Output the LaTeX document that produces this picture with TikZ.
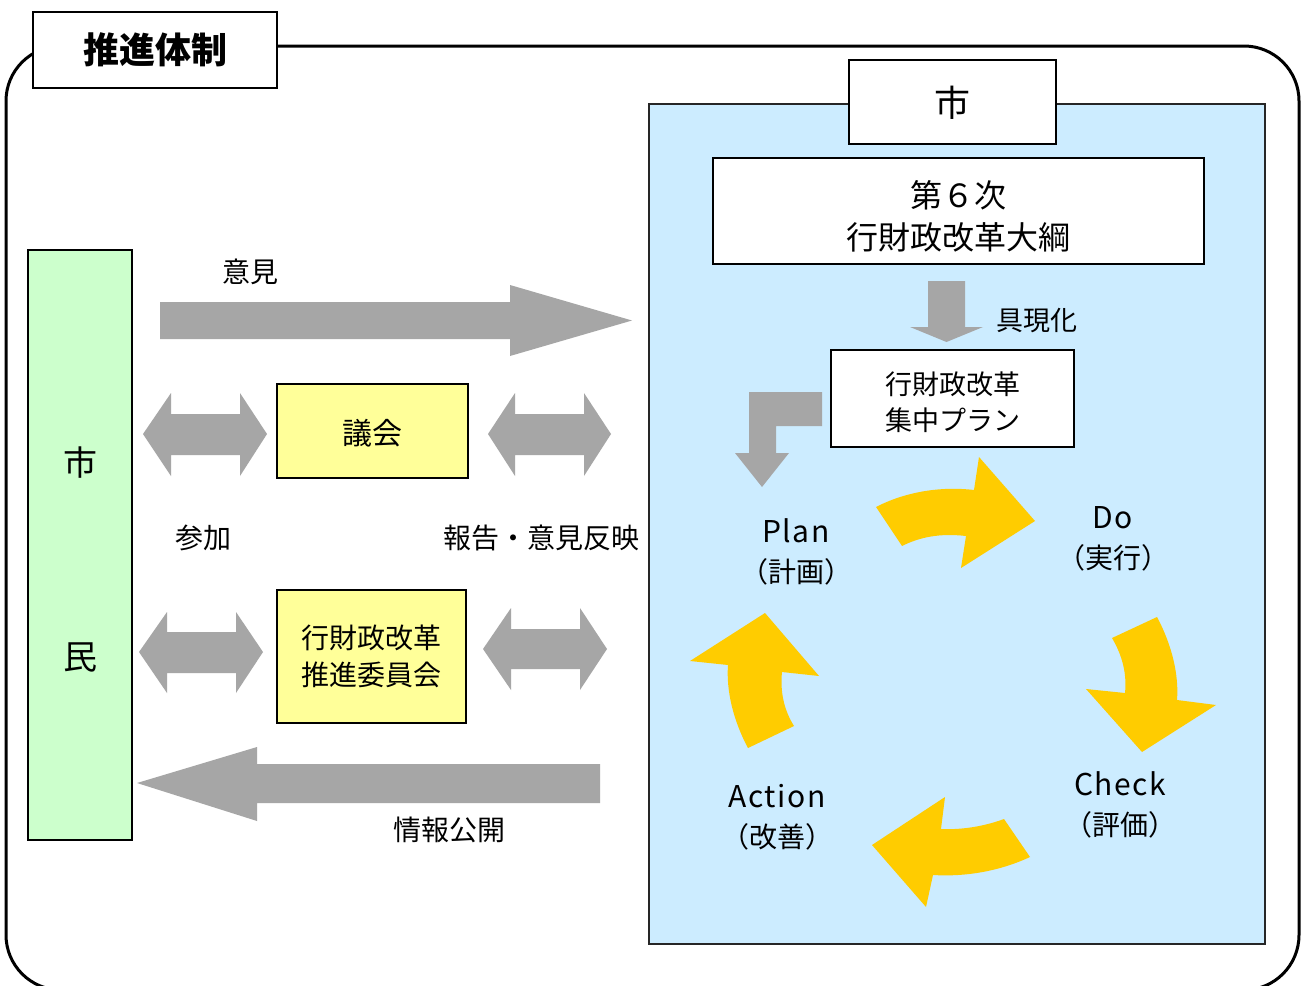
\documentclass[tikz,border=0pt]{standalone}
\usepackage{fontspec}
\setmainfont{Noto Sans CJK JP}
\definecolor{agray}{HTML}{A6A6A6}
\definecolor{pyellow}{HTML}{FFCC00}
\definecolor{pblue}{HTML}{CCECFF}
\definecolor{pgreen}{HTML}{CCFFCC}
\definecolor{pyel}{HTML}{FFFF99}
\newcommand{\latw}[1]{{\fontsize{30}{40}\selectfont\addfontfeature{LetterSpace=5}#1}}
\tikzset{
  txt/.style={inner sep=0pt, align=center, font=\fontsize{28}{37}\selectfont},
  bx/.style={draw=black, line width=2.5pt, inner sep=0pt},
  garrow/.style={fill=agray, draw=none},
  yarrow/.style={fill=pyellow, draw=none},
}
\begin{document}
\begin{tikzpicture}[x=1pt,y=-1pt]
\useasboundingbox (0,0) rectangle (1303,985);
\fill[white] (0,0) rectangle (1303,985);
\clip (0,0) rectangle (1303,985);
% outer frame
\draw[line width=3pt, rounded corners=55] (6,46) rectangle (1299,990);
\node[bx, fill=white, minimum width=244, minimum height=76] (title) at (155,50) {};
\node[txt, font=\fontsize{36}{40}\selectfont\bfseries] (titletxt) at (155,50) {推進体制};

% citizens
\node[bx, line width=2pt, fill=pgreen, minimum width=104, minimum height=590] (shimin) at (80,545) {};
\node[txt, font=\fontsize{34}{40}\selectfont] (shi1) at (80,463) {市};
\node[txt, font=\fontsize{34}{40}\selectfont] (min1) at (80,657) {民};

% opinion arrow
\fill[garrow] (160,302) -- (510,302) -- (510,285) -- (632,320.5) -- (510,356) -- (510,339) -- (160,339) -- cycle;
\node[txt] (iken) at (250,272) {意見};

% gikai
\node[bx, line width=2pt, fill=pyel, minimum width=191, minimum height=94] (gikai) at (372.5,431) {};
\node[txt, font=\fontsize{30}{36}\selectfont] (gikaitxt) at (372.5,433) {議会};
\fill[garrow] (143,434) -- (171,393) -- (171,414) -- (240,414) -- (240,393) -- (267,434) -- (240,476) -- (240,455) -- (171,455) -- (171,476) -- cycle;
\fill[garrow] (488,434) -- (515,393) -- (515,414) -- (584,414) -- (584,393) -- (611,434) -- (584,476) -- (584,455) -- (515,455) -- (515,476) -- cycle;

\node[txt] (sanka) at (203,538) {参加};
\node[txt] (hokoku) at (541,538) {報告・意見反映};

% committee
\node[bx, line width=2pt, fill=pyel, minimum width=189, minimum height=133] (iinkai) at (371.5,656) {};
\node[txt] (iinkaitxt) at (371.5,656) {行財政改革\\推進委員会};
\fill[garrow] (139,652) -- (167,612) -- (167,632) -- (236,632) -- (236,612) -- (263,652) -- (236,693) -- (236,673) -- (167,673) -- (167,693) -- cycle;
\fill[garrow] (483,649) -- (511,608) -- (511,629) -- (580,629) -- (580,608) -- (607,649) -- (580,690) -- (580,669) -- (511,669) -- (511,690) -- cycle;

% information arrow
\fill[garrow] (137,783) -- (257,747) -- (257,764) -- (600,764) -- (600,803) -- (257,803) -- (257,821) -- cycle;
\node[txt] (joho) at (449,830) {情報公開};

% city panel
\node[draw=black!85, line width=2pt, fill=pblue, inner sep=0pt, minimum width=616, minimum height=840] (panel) at (957,524) {};
\node[bx, line width=2pt, fill=white, minimum width=207, minimum height=84] (city) at (952.5,102) {};
\node[txt, font=\fontsize{36}{40}\selectfont] (citytxt) at (952.5,103) {市};
\node[bx, line width=2pt, fill=white, minimum width=491, minimum height=106] (taiko) at (958.5,211) {};
\node[txt, font=\fontsize{32}{42}\selectfont] (taikotxt) at (958.5,216) {第６次\\行財政改革大綱};

\fill[garrow] (928,281) -- (965,281) -- (965,327) -- (983,327) -- (946.5,342) -- (910,327) -- (928,327) -- cycle;
\node[txt, font=\fontsize{27}{32}\selectfont] (gugen) at (1037,321) {具現化};

\node[bx, line width=2pt, fill=white, minimum width=243, minimum height=97] (plan) at (952.5,398.5) {};
\node[txt, font=\fontsize{27}{36}\selectfont] (plantxt) at (952.5,402) {行財政改革\\集中プラン};

\fill[garrow] (822,392) -- (822,426) -- (776,426) -- (776,453) -- (789,453) -- (762,487) -- (735,453) -- (749,453) -- (749,392) -- cycle;

% PDCA labels
\node[txt, font=\fontsize{28}{40}\selectfont] (pP) at (796,552) {\latw{Plan}\\（計画）};
\node[txt, font=\fontsize{28}{40}\selectfont] (pD) at (1113,539) {\latw{Do}\\（実行）};
\node[txt, font=\fontsize{28}{40}\selectfont] (pC) at (1120,805) {\latw{Check}\\（評価）};
\node[txt, font=\fontsize{28}{40}\selectfont] (pA) at (777,817) {\latw{Action}\\（改善）};

% PDCA arrows
\fill[yarrow] (876,507) .. controls (905,492) and (940,486) .. (974,490) -- (979,457) -- (1035,521) -- (961,568) -- (966,536) .. controls (940,533) and (920,537) .. (902,546) -- cycle;
\fill[yarrow] (1157,617) .. controls (1172,645) and (1179,675) .. (1177,700) -- (1216,705) -- (1142,752) -- (1086,689) -- (1125,693) .. controls (1127,673) and (1122,655) .. (1112,638) -- cycle;
\fill[yarrow] (1030,857) .. controls (1000,871) and (966,877) .. (933,875) -- (926,907) -- (872,845) -- (945,797) -- (941,829) .. controls (963,830) and (985,826) .. (1004,819) -- cycle;
\fill[yarrow] (748,748) .. controls (734,722) and (726,692) .. (728,665) -- (690,661) -- (765,613) -- (819,676) -- (782,672) .. controls (780,692) and (784,710) .. (794,726) -- cycle;
\end{tikzpicture}
\end{document}
